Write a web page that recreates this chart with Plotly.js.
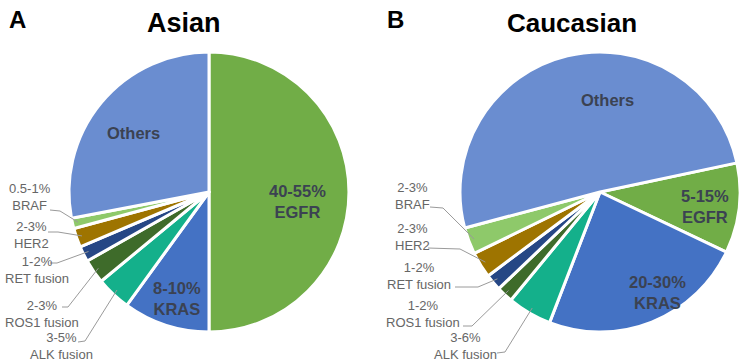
<!DOCTYPE html>
<html>
<head>
<meta charset="utf-8">
<script src="https://cdn.plot.ly/plotly-3.0.1.min.js"></script>
<style>html,body{margin:0;padding:0;background:#fff;}#chart{width:741px;height:362px;}</style>
</head>
<body>
<div id="chart"></div>
<script>
// ---- data ----
const groups = ['EGFR', 'KRAS', 'ALK fusion', 'ROS1 fusion', 'RET fusion', 'HER2', 'BRAF', 'Others'];
const sliceColors = ['#71AD47', '#4472C4', '#14B08B', '#3E6B2A', '#264785', '#9E7400', '#8EC96A', '#6A8DD0'];
const asianValues = [50, 10, 4, 2.8, 1.8, 2.2, 1.2, 28];
const asianRanges = ['40-55%', '8-10%', '3-5%', '2-3%', '1-2%', '2-3%', '0.5-1%', ''];
const caucValues = [10.4, 23.8, 5.1, 1.9, 1.9, 3.0, 3.1, 50.8];
const caucRanges = ['5-15%', '20-30%', '3-6%', '1-2%', '1-2%', '2-3%', '2-3%', ''];

// ---- layout helpers (pixel -> paper) ----
const W = 741, H = 362;
const px = x => x / W;
const py = y => 1 - y / H;

const pies = [
  {title: 'Asian', letter: 'A', values: asianValues, ranges: asianRanges, rotation: 0,
   cx: 209, cy: 192, r: 140, titleX: 184, titleSize: 27, letterX: 17,
   inside: {0: [297, 201], 1: [177, 298], 7: [133, 133]},
   outside: {2: [61, 346], 3: [42, 314], 4: [37, 270], 5: [31, 235], 6: [30, 197]},
   lines: {2: [[78,342],[85,341]], 3: [[62,307],[68,307]], 4: [[50,263],[57,263]], 5: [[48,232],[58,232]], 6: [[50,210],[60,211]]}
  },
  {title: 'Caucasian', letter: 'B', values: caucValues, ranges: caucRanges, rotation: 78,
   cx: 600, cy: 192, r: 140, titleX: 572, titleSize: 26, letterX: 395,
   inside: {0: [705, 206], 1: [657, 292], 7: [607, 100]},
   outside: {2: [465, 346], 3: [423, 314], 4: [419, 276], 5: [412, 237], 6: [412, 196]},
   lines: {2: [[497,353],[505,352]], 3: [[463,326],[472,326]], 4: [[455,287],[478,287]], 5: [[428,248],[460,249]], 6: [[430,207],[443,208]]}
  }
];

const data = [];
const annotations = [];
const shapes = [];

pies.forEach(p => {
  data.push({
    type: 'pie',
    values: p.values,
    labels: groups,
    sort: false,
    direction: 'clockwise',
    rotation: p.rotation,
    textinfo: 'none',
    hoverinfo: 'label+value',
    showlegend: false,
    marker: {colors: sliceColors, line: {color: '#ffffff', width: 3}},
    domain: {x: [px(p.cx - p.r), px(p.cx + p.r)], y: [py(p.cy + p.r), py(p.cy - p.r)]}
  });
  annotations.push({xref: 'paper', yref: 'paper', x: px(p.titleX), y: py(23), xanchor: 'center', yanchor: 'middle',
    text: '<b>' + p.title + '</b>', showarrow: false, font: {family: 'Liberation Sans, Arial, sans-serif', size: p.titleSize, color: '#000'}});
  annotations.push({xref: 'paper', yref: 'paper', x: px(p.letterX), y: py(20), xanchor: 'center', yanchor: 'middle',
    text: '<b>' + p.letter + '</b>', showarrow: false, font: {family: 'Liberation Sans, Arial, sans-serif', size: 24, color: '#000'}});

  const total = p.values.reduce((a, b) => a + b, 0);
  let cum = 0;
  p.values.forEach((v, i) => {
    const mid = p.rotation + (cum + v / 2) / total * 360;
    cum += v;
    const label = p.ranges[i] ? p.ranges[i] + '<br>' + groups[i] : groups[i];
    if (p.inside[i]) {
      const [x, y] = p.inside[i];
      annotations.push({xref: 'paper', yref: 'paper', x: px(x), y: py(y), xanchor: 'center', yanchor: 'middle',
        text: '<b>' + label + '</b>', showarrow: false, align: 'center',
        font: {family: 'Liberation Sans, Arial, sans-serif', size: 16.5, color: '#3B4252'}});
    }
    if (p.outside[i]) {
      const [x, y] = p.outside[i];
      annotations.push({xref: 'paper', yref: 'paper', x: px(x), y: py(y), xanchor: 'center', yanchor: 'middle',
        text: label, showarrow: false, align: 'center',
        font: {family: 'Liberation Sans, Arial, sans-serif', size: 13, color: '#666666'}});
      const [s, e] = p.lines[i];
      const a = mid * Math.PI / 180;
      const ex = p.cx + p.r * 0.96 * Math.sin(a);
      const ey = p.cy - p.r * 0.96 * Math.cos(a);
      shapes.push({type: 'path', xref: 'paper', yref: 'paper',
        path: 'M ' + px(s[0]) + ' ' + py(s[1]) + ' L ' + px(e[0]) + ' ' + py(e[1]) + ' L ' + px(ex) + ' ' + py(ey),
        line: {color: '#9a9a9a', width: 1}});
    }
  });
});

const layout = {
  width: W, height: H,
  margin: {l: 0, r: 0, t: 0, b: 0},
  paper_bgcolor: '#ffffff',
  plot_bgcolor: '#ffffff',
  annotations: annotations,
  shapes: shapes,
  showlegend: false
};

Plotly.newPlot('chart', data, layout, {displayModeBar: false, staticPlot: true});
</script>
</body>
</html>
